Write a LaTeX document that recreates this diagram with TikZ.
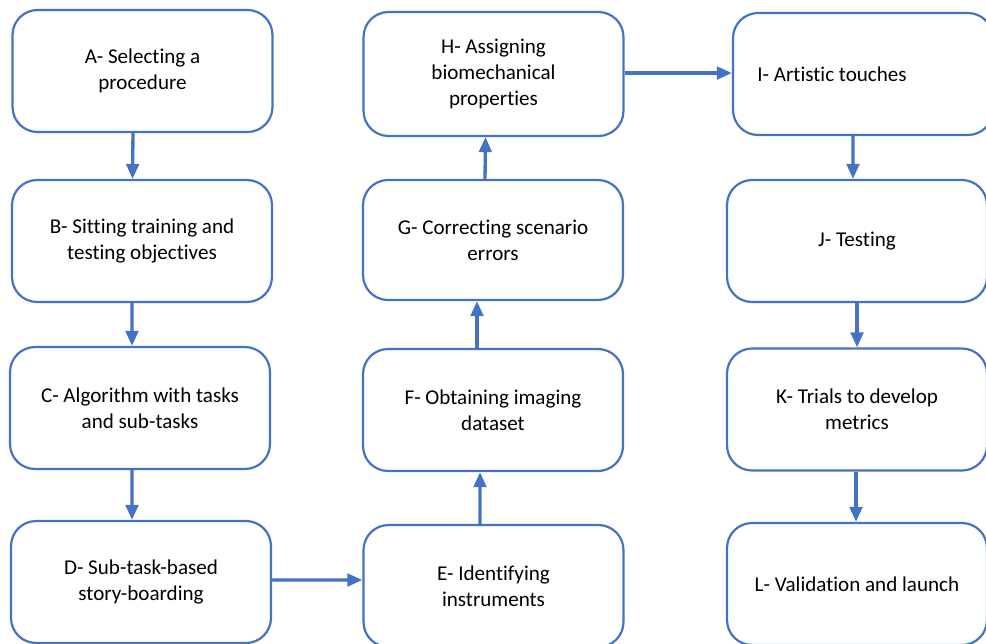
\documentclass[tikz,border=0pt]{standalone}
\usepackage{fontspec}
\setmainfont{Carlito}[Ligatures=CommonOff]
\usetikzlibrary{arrows.meta}
\definecolor{offblue}{HTML}{4472C4}
\tikzset{
    box/.style={draw=offblue, line width=1.25pt, rounded corners=0.5cm, fill=white,
      minimum width=5.2cm, minimum height=2.44cm, align=center, inner sep=2pt,
      font=\fontsize{12}{14.8}\selectfont},
    lbl/.style={font=\fontsize{12}{14.8}\selectfont, inner sep=0pt},
    flow/.style={-{Triangle[width=0.25cm, length=0.3cm]}, draw=offblue, line width=1.9pt},
  }
\begin{document}
\begin{tikzpicture}[x=0.02cm, y=-0.02cm]
        \useasboundingbox (0,0) rectangle (986,643);
        \clip (0,0) rectangle (986,643);
        \node[box] (A) at (142.5,71) {A- Selecting a\\procedure};
        \node[box] (B) at (142,241) {B- Sitting training and\\testing objectives};
        \node[box] (C) at (140,408) {C- Algorithm with tasks\\and sub-tasks};
        \node[box] (D) at (141,582) {D- Sub-task-based\\story-boarding};
        \node[box] (E) at (493.5,586) {E- Identifying\\instruments};
        \node[box] (F) at (493,410) {F- Obtaining imaging\\dataset};
        \node[box, minimum height=2.4cm] (G) at (493,240) {G- Correcting scenario\\errors};
        \node[box, minimum height=2.48cm] (H) at (493.5,74) {H- Assigning\\biomechanical\\properties};
        \node[box] (I) at (863,74) {};
        \node[lbl, anchor=west] (Itxt) at (757,74) {I- Artistic touches};
        \node[box] (J) at (857,241) {J- Testing};
        \node[box] (K) at (857,409.5) {K- Trials to develop\\metrics};
        \node[box] (L) at (857,584) {L- Validation and launch};
        \draw[flow] ([xshift=-0.19cm]A.south) -- ([xshift=-0.19cm]B.north);
        \draw[flow] ([xshift=-0.2cm]B.south) -- ([xshift=-0.16cm]C.north);
        \draw[flow] ([xshift=-0.16cm]C.south) -- ([xshift=-0.18cm]D.north);
        \draw[flow] ([yshift=0.04cm]D.east) -- ([yshift=0.12cm]E.west);
        \draw[flow] ([xshift=-0.27cm]E.north) -- ([xshift=-0.26cm]F.south);
        \draw[flow] ([xshift=-0.32cm]F.north) -- ([xshift=-0.32cm]G.south);
        \draw[flow] ([xshift=-0.16cm]G.north) -- ([xshift=-0.16cm]H.south);
        \draw[flow] ([yshift=0.02cm]H.east) -- ([yshift=0.02cm]I.west);
        \draw[flow] ([xshift=-0.2cm]I.south) -- ([xshift=-0.08cm]J.north);
        \draw[flow] (J.south) -- (K.north);
        \draw[flow] ([xshift=-0.02cm]K.south) -- ([xshift=-0.02cm]L.north);
    \end{tikzpicture}
\end{document}
